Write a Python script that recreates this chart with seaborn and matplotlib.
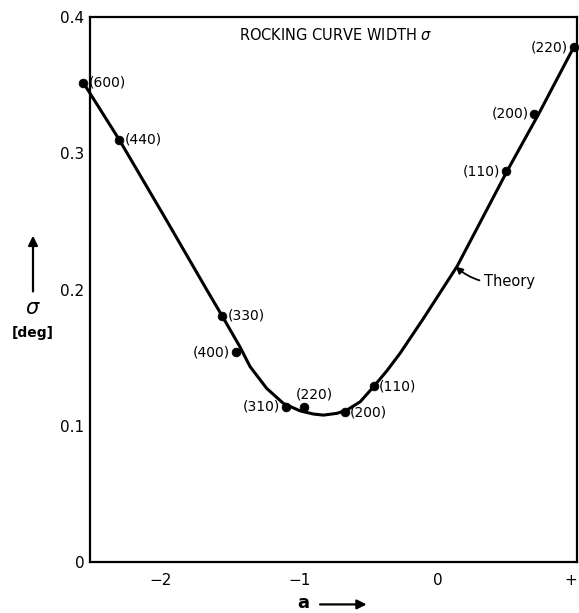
import numpy as np
import pandas as pd
import matplotlib
matplotlib.use("Agg")
import matplotlib.pyplot as plt
import seaborn as sns

# Measured reflections (a, sigma in deg) and their labels
point_a = [-2.56, -2.30, -1.56, -1.46, -1.10, -0.965, -0.676, -0.467, 0.487, 0.69, 0.977]
point_sigma = [0.352, 0.310, 0.181, 0.154, 0.114, 0.114, 0.110, 0.129, 0.287, 0.329, 0.378]
point_labels = ["(600)", "(440)", "(330)", "(400)", "(310)", "(220)", "(200)", "(110)",
                "(110)", "(200)", "(220)"]
label_side = ["right", "right", "right", "left", "left", "above", "right", "right",
              "left", "left", "left"]

# Theory curve
theory_a = [-2.56, -2.30, -1.96, -1.67, -1.56, -1.43, -1.357, -1.237, -1.117, -0.996,
            -0.90, -0.828, -0.731, -0.659, -0.563, -0.467, -0.370, -0.274, -0.106,
            0.135, 0.496, 0.724, 0.977]
theory_sigma = [0.352, 0.310, 0.251, 0.200, 0.181, 0.158, 0.1435, 0.1275, 0.1165, 0.111,
                0.1087, 0.1079, 0.1092, 0.1116, 0.1177, 0.1287, 0.1405, 0.1535, 0.179,
                0.217, 0.287, 0.329, 0.378]

x_ticks = [-2, -1, 0, 1]
x_tick_labels = ["\u22122", "\u22121", "0", "+"]
y_ticks = [0, 0.1, 0.2, 0.3, 0.4]
y_tick_labels = ["0", "0.1", "0.2", "0.3", "0.4"]

sns.set_theme(style="white")
plt.rcParams["font.family"] = ["DejaVu Sans"]
plt.rcParams["text.color"] = "black"

fig = plt.figure(figsize=(5.79, 6.13), dpi=100)
ax = fig.add_axes([0.155, 0.083, 0.8415, 0.889])

curve = pd.DataFrame({"a": theory_a, "sigma": theory_sigma})
pts = pd.DataFrame({"a": point_a, "sigma": point_sigma})

sns.lineplot(data=curve, x="a", y="sigma", sort=False, color="black", linewidth=2.2, ax=ax)
for ln in ax.lines:
    ln.set_clip_on(False)
    ln.set_solid_joinstyle("round")
sns.scatterplot(data=pts, x="a", y="sigma", color="black", s=40, edgecolor="black",
                zorder=5, ax=ax, clip_on=False)

for a, s, lab, side in zip(point_a, point_sigma, point_labels, label_side):
    if side == "right":
        off, ha = (4, 0), "left"
    elif side == "left":
        off, ha = (-4, 0), "right"
    else:
        off, ha = (7, 9), "center"
    ax.annotate(lab, (a, s), xytext=off, textcoords="offset points",
                ha=ha, va="center", fontsize=10, color="black", annotation_clip=False)

ax.set_xlim(-2.513, 1.0)
ax.set_ylim(0, 0.4)
ax.set_xticks(x_ticks)
ax.set_xticklabels(x_tick_labels, fontsize=11)
ax.get_xticklabels()[-1].set_ha("right")
ax.set_yticks(y_ticks)
ax.set_yticklabels(y_tick_labels, fontsize=11)
ax.tick_params(axis="x", direction="in", length=12, width=1.6, pad=8, colors="black")
ax.tick_params(axis="y", direction="in", length=12, width=1.6, pad=4, colors="black")
ax.set_xlabel("")
ax.set_ylabel("")
for sp in ax.spines.values():
    sp.set_visible(True)
    sp.set_color("black")
    sp.set_linewidth(1.6)

# title inside the box
ax.text(-0.74, 0.387, "ROCKING CURVE WIDTH $\\sigma$", ha="center", va="center", fontsize=10.5)

# Theory leader
ax.annotate("Theory", xy=(0.125, 0.217), xytext=(0.33, 0.206), ha="left", va="center",
            fontsize=10.5,
            arrowprops=dict(arrowstyle="-|>", color="black", lw=1.3,
                            connectionstyle="arc3,rad=-0.25", shrinkA=1, shrinkB=0))

# y axis label: arrow, sigma, [deg]
fig.text(0.057, 0.497, "$\\sigma$", ha="center", va="center", fontsize=15)
fig.text(0.057, 0.457, "[deg]", ha="center", va="center", fontsize=10, fontweight="bold")
fig.add_artist(matplotlib.patches.FancyArrowPatch((0.057, 0.52), (0.057, 0.62),
                                                  transform=fig.transFigure,
                                                  arrowstyle="-|>", mutation_scale=14,
                                                  color="black", lw=1.6))

# x axis label: a with arrow
fig.text(0.523, 0.017, "a", ha="center", va="center", fontsize=13, fontweight="bold")
fig.add_artist(matplotlib.patches.FancyArrowPatch((0.548, 0.014), (0.638, 0.014),
                                                  transform=fig.transFigure,
                                                  arrowstyle="-|>", mutation_scale=14,
                                                  color="black", lw=1.6))

fig.savefig("out.png", dpi=100)
